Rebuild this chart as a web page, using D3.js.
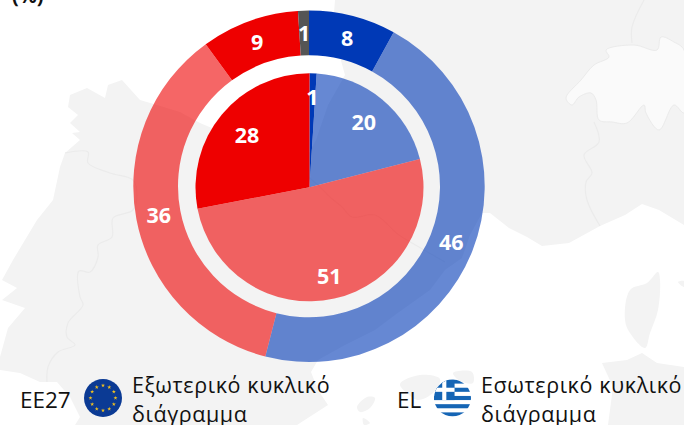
<!DOCTYPE html>
<html><head><meta charset="utf-8">
<script src="https://cdnjs.cloudflare.com/ajax/libs/d3/7.8.5/d3.min.js"></script>
<style>html,body{margin:0;padding:0;background:#fff}svg{display:block;font-family:"Open Sans",sans-serif}</style>
</head><body><svg id="c" width="684" height="425"></svg>
<script>
// Chart values
const outerCategories = ["dark-blue","light-blue","light-red","dark-red","grey"];
const outerValues = [8,46,36,9,1];
const innerCategories = ["dark-blue","light-blue","light-red","dark-red"];
const innerValues = [1,20,51,28];
const legendLeft = {code:"EE27", lines:["Εξωτερικό κυκλικό","διάγραμμα"]};
const legendRight = {code:"EL", lines:["Εσωτερικό κυκλικό","διάγραμμα"]};
const unitLabel = "(%)";

const colors = {"dark-blue":"#0039b6","light-blue":"#0039b6","dark-red":"#ee0000","light-red":"#ee0000","grey":"#555555"};
const alphas = {"dark-blue":1,"light-blue":0.6,"dark-red":1,"light-red":0.6,"grey":1};

// Decorative backdrop outlines (pixel space)
const mainland=[[684,0],[335,0],[333,25],[338,50],[345,75],[328,105],[316,140],[300,170],[270,155],[240,140],[200,123],[180,112],[157,105],[140,100],[122,80],[108,85],[105,98],[87,88],[70,95],[68,107],[78,115],[70,123],[80,132],[72,133],[80,140],[65,153],[60,167],[53,200],[37,220],[13,260],[2,280],[17,288],[2,300],[25,308],[8,328],[0,357],[0,370],[20,373],[40,382],[57,382],[70,397],[80,417],[75,425],[297,425],[328,405],[318,390],[311,372],[318,360],[345,345],[375,330],[395,315],[430,290],[445,270],[462,258],[470,235],[482,213],[490,213],[509,228],[527,237],[542,246],[569,243],[600,226],[625,215],[642,204],[659,210],[684,225]];
const swiss=[[566,98],[572,105],[579,97],[591,93],[596,100],[599,120],[612,122],[627,123],[644,105],[646,113],[659,130],[674,105],[684,113],[684,50],[674,42],[661,37],[657,50],[634,45],[606,50],[609,57],[594,65],[581,80]];
const corsica=[[658,272],[660,280],[658,310],[650,333],[645,348],[630,333],[625,320],[630,290],[647,283]];
const sardinia=[[642,353],[657,363],[684,367],[684,425],[608,425],[613,387],[602,363],[627,360]];
const mallorca=[[400,384],[420,375],[440,379],[434,392],[418,400],[408,394]];
const menorca=[[453,373],[472,372],[473,383],[460,381]];
const ibiza=[[357,407],[367,397],[375,398],[370,408],[360,412]];
const formentera=[[363,418],[370,423],[364,425]];
const elba=[[678,282],[684,281],[684,287]];
const borders=[
 [[65,153],[88,152],[88,163],[110,173],[133,180],[137,195],[133,210],[113,218],[112,237],[98,245],[98,257],[90,272],[79,271],[80,297],[83,305],[68,323],[67,337],[75,345],[58,352],[48,367],[47,382]],
 [[300,170],[320,187],[330,197],[342,207],[352,217],[375,215],[399,235],[419,247],[445,262]],
 [[644,0],[632,27],[632,43]],
 [[594,122],[599,142],[584,155],[592,173],[586,182],[587,200],[600,226]]
];

const svg=d3.select("#c");
const land="#f3f3f3", edge="#ebebeb";
const closed=d3.line().curve(d3.curveCatmullRomClosed.alpha(.5));
const open=d3.line().curve(d3.curveCatmullRom.alpha(.5));
const poly=d3.line();
const bg=svg.append("g");
bg.append("path").attr("d",poly(mainland)+"Z").attr("fill",land);
bg.selectAll("path.i").data([corsica,mallorca,menorca,ibiza,formentera,elba]).join("path").attr("class","i").attr("d",closed).attr("fill",land);
bg.append("path").attr("d",poly(sardinia)+"Z").attr("fill",land);
bg.append("path").attr("d",closed(swiss)).attr("fill","#fafafa").attr("stroke",edge);
bg.selectAll("path.b").data(borders).join("path").attr("class","b").attr("d",open).attr("fill","none").attr("stroke",edge).attr("stroke-width",1.2);

svg.append("text").attr("x",12).attr("y",3).attr("font-size",20).attr("font-weight",700).attr("fill","#111").text(unitLabel);

const cx=309,cy=186.3;
const pie=d3.pie().sort(null).value(d=>d.v);
function ring(cats,vals,r0,r1,lr,ox,oy){
  const g=svg.append("g").attr("transform",`translate(${cx+ox},${cy+oy})`);
  const arcs=pie(vals.map((v,i)=>({v,c:cats[i]})));
  const arc=d3.arc().innerRadius(r0).outerRadius(r1);
  g.selectAll("path").data(arcs).join("path").attr("d",arc)
    .attr("fill",d=>colors[d.data.c]).attr("fill-opacity",d=>alphas[d.data.c]);
  g.selectAll("text").data(arcs).join("text")
    .attr("transform",(d,i)=>{const r=lr(i),la=d3.arc().innerRadius(r).outerRadius(r);return `translate(${la.centroid(d)})`;})
    .attr("text-anchor","middle").attr("dy","0.36em")
    .attr("font-size",21.5).attr("font-weight",700).attr("fill","#fff").text(d=>d.data.v);
}
ring(outerCategories,outerValues,131,175.7,()=>153,0,0);
const innerLabelRadius=[90,85,91,81];
ring(innerCategories,innerValues,0,114,i=>innerLabelRadius[i],0.5,1);

function legend(spec,xCode,xText){
  const g=svg.append("g").attr("fill","#111");
  g.append("text").attr("x",xCode).attr("y",408).attr("font-size",22.5).text(spec.code);
  spec.lines.forEach((t,i)=>g.append("text").attr("x",xText).attr("y",393+i*29).attr("font-size",21.5)
     .attr("letter-spacing",0.6).text(t));
}
legend(legendLeft,20,132);
legend(legendRight,397,481);

// EU flag
const eu=svg.append("g").attr("transform","translate(103,398)");
eu.append("circle").attr("r",19).attr("fill","#0b3a94");
eu.selectAll("path").data(d3.range(12)).join("path")
  .attr("d",d3.symbol(d3.symbolStar,5))
  .attr("transform",i=>`translate(${12.5*Math.sin(i*Math.PI/6)},${-12.5*Math.cos(i*Math.PI/6)})`)
  .attr("fill","#f0c020");

// Greek flag
const gx=452.5,gy=398,gr=18.5;
svg.append("defs").append("clipPath").attr("id","gc").append("circle").attr("cx",gx).attr("cy",gy).attr("r",gr);
const gf=svg.append("g").attr("clip-path","url(#gc)");
const sh=2*gr/9;
gf.append("rect").attr("x",gx-gr).attr("y",gy-gr).attr("width",2*gr).attr("height",2*gr).attr("fill","#fff");
d3.range(0,9,2).forEach(i=>gf.append("rect").attr("x",gx-gr).attr("y",gy-gr+i*sh).attr("width",2*gr).attr("height",sh).attr("fill","#1565b5"));
gf.append("rect").attr("x",gx-gr).attr("y",gy-gr).attr("width",5*sh).attr("height",5*sh).attr("fill","#1565b5");
gf.append("rect").attr("x",gx-gr+2*sh).attr("y",gy-gr).attr("width",sh).attr("height",5*sh).attr("fill","#fff");
gf.append("rect").attr("x",gx-gr).attr("y",gy-gr+2*sh).attr("width",5*sh).attr("height",sh).attr("fill","#fff");
</script></body></html>
